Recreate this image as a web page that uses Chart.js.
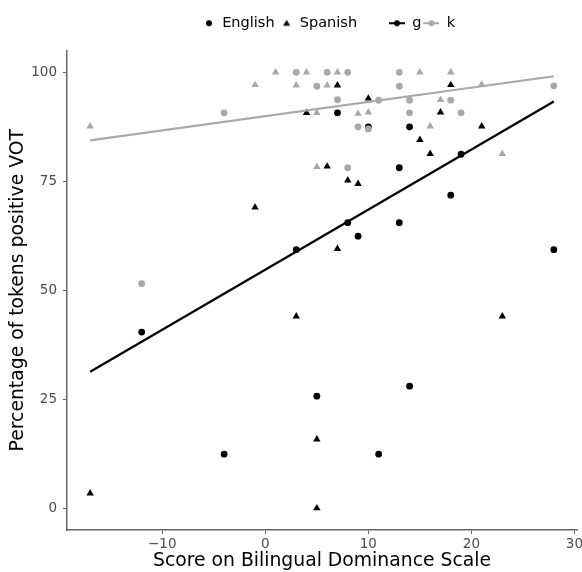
<!DOCTYPE html>
<html>
<head>
<meta charset="utf-8">
<script src="https://cdn.jsdelivr.net/npm/chart.js@4"></script>
<style>
  html, body { margin:0; padding:0; background:#fff; }
  #wrap { width:582px; height:572px; position:relative; }
</style>
</head>
<body>
<div id="wrap"><canvas id="vot"></canvas></div>
<script>
'use strict';

// [score, % positive VOT]
const englishG = [[-12,40.4],[-4,12.4],[3,59.3],[5,25.7],[7,90.7],[8,65.5],[9,62.4],[10,87.5],
  [11,12.4],[13,78.1],[13,65.5],[14,87.5],[14,28],[18,71.8],[19,81.2],[28,59.3]];
const spanishG = [[-17,3.4],[-1,69],[3,44],[4,90.7],[5,15.8],[5,0],[6,78.4],[7,97],[7,59.5],
  [8,75.2],[9,74.4],[10,94],[15,84.5],[16,81.3],[17,90.8],[18,97.1],[21,87.6],[23,44]];
const englishK = [[-12,51.5],[-4,90.7],[3,100],[5,96.8],[6,100],[7,93.7],[8,100],[8,78.1],
  [9,87.5],[10,87],[11,93.6],[13,100],[13,96.8],[14,93.6],[14,90.7],[18,93.6],[19,90.7],[28,96.9]];
const spanishK = [[-17,87.6],[-1,97.1],[1,100],[3,97],[4,100],[5,90.7],[5,78.3],[6,97],[7,100],
  [9,90.5],[10,90.8],[15,100],[16,87.6],[17,93.7],[18,100],[21,97.2],[23,81.3]];

// fitted lines, end points
const fitG = [[-17,31.3],[28,93.3]];
const fitK = [[-17,84.4],[28,99.1]];

const xTicks = [-10, 0, 10, 20, 30];
const yTicks = [0, 25, 50, 75, 100];

const BLACK = '#000000', GREY = '#a8a8a8', AXIS = '#666666', TICK_TXT = '#4d4d4d';
const FONT = 'DejaVu Sans';

const pts = a => a.map(([x, y]) => ({ x, y }));

// little canvases used as legend keys
function keyImg(draw) {
  const c = document.createElement('canvas');
  c.width = 16; c.height = 14;
  draw(c.getContext('2d'));
  return c;
}
const dotKey = keyImg(g => { g.fillStyle = BLACK; g.beginPath(); g.arc(10, 7, 3, 0, Math.PI*2); g.fill(); });
const triKey = keyImg(g => {
  g.fillStyle = BLACK; g.beginPath();
  g.moveTo(10, 3.5); g.lineTo(13.5, 9.5); g.lineTo(6.5, 9.5); g.closePath(); g.fill();
});
const blankKey = keyImg(() => {});
const lineKey = col => keyImg(g => {
  g.strokeStyle = col; g.lineWidth = 2;
  g.beginPath(); g.moveTo(0, 7); g.lineTo(16, 7); g.stroke();
  g.fillStyle = col; g.beginPath(); g.arc(8, 7, 3, 0, Math.PI*2); g.fill();
});

const legendItems = [
  { text:'English', pointStyle:dotKey },
  { text:'Spanish', pointStyle:triKey },
  { text:' ',       pointStyle:blankKey },
  { text:'g',       pointStyle:lineKey(BLACK) },
  { text:'k',       pointStyle:lineKey(GREY) }
].map(it => ({ ...it, fillStyle:'rgba(0,0,0,0)', strokeStyle:'rgba(0,0,0,0)', lineWidth:0, hidden:false, fontColor:BLACK }));

// extra room under the legend, and nudge it right a little
const legendTweak = {
  id: 'legendTweak',
  beforeInit(chart) {
    const leg = chart.legend;
    const fit = leg.fit, draw = leg.draw;
    leg.fit = function () { fit.call(this); this.height += 10; };
    leg.draw = function (...a) {
      const ctx = this.ctx;
      ctx.save(); ctx.translate(5, 0);
      draw.apply(this, a);
      ctx.restore();
    };
  }
};

const minusFmt = v => (v < 0 ? '\u2212' + Math.abs(v) : String(v));

const scatterSet = (data, col, style, r) => ({
  data: pts(data), pointStyle: style, pointRadius: r, pointHoverRadius: r,
  backgroundColor: col, borderColor: col, borderWidth: 0, showLine: false
});
const fitSet = (data, col) => ({
  data: pts(data), showLine: true, borderColor: col, borderWidth: 2.2,
  pointRadius: 0, pointHoverRadius: 0, fill: false
});

new Chart(document.getElementById('vot'), {
  type: 'scatter',
  data: {
    datasets: [
      fitSet(fitG, BLACK),
      fitSet(fitK, GREY),
      scatterSet(englishK, GREY, 'circle', 3.4),
      scatterSet(spanishK, GREY, 'triangle', 4.3),
      scatterSet(englishG, BLACK, 'circle', 3.4),
      scatterSet(spanishG, BLACK, 'triangle', 4.3)
    ]
  },
  options: {
    responsive: true, maintainAspectRatio: false, animation: false,
    layout: { padding: { top: 14, left: 0, right: 5, bottom: 0 } },
    plugins: {
      tooltip: { enabled: false },
      legend: {
        position: 'top', fullSize: false, onClick: null,
        labels: {
          usePointStyle: true, pointStyleWidth: 16, padding: 2, color: BLACK,
          font: { family: FONT, size: 14.5 },
          generateLabels: () => legendItems
        }
      }
    },
    scales: {
      x: {
        type: 'linear', min: -19.25, max: 30.25,
        afterBuildTicks: s => { s.ticks = xTicks.map(v => ({ value: v })); },
        afterFit: s => { s.height = 42; s.paddingLeft = 0; s.paddingRight = 0; },
        ticks: { includeBounds: false, color: TICK_TXT, padding: 2, maxRotation: 0,
                 font: { family: FONT, size: 13.5 }, callback: minusFmt },
        grid: { drawOnChartArea: false, drawTicks: true, tickLength: 4, color: AXIS, lineWidth: 1 },
        border: { display: true, color: AXIS, width: 1.5 },
        title: { display: true, text: 'Score on Bilingual Dominance Scale', color: BLACK,
                 font: { family: FONT, size: 18.8 }, padding: { top: 0, bottom: 0 } }
      },
      y: {
        type: 'linear', min: -5, max: 105,
        afterBuildTicks: s => { s.ticks = yTicks.map(v => ({ value: v })); },
        afterFit: s => { s.width = 67; },
        ticks: { includeBounds: false, color: TICK_TXT, padding: 6,
                 font: { family: FONT, size: 13.5 } },
        grid: { drawOnChartArea: false, drawTicks: true, tickLength: 4, color: AXIS, lineWidth: 1 },
        border: { display: true, color: AXIS, width: 1.5 },
        title: { display: true, text: 'Percentage of tokens positive VOT', color: BLACK,
                 font: { family: FONT, size: 18.8 }, padding: { top: 7, bottom: 0 } }
      }
    }
  },
  plugins: [legendTweak]
});
</script>
</body>
</html>
